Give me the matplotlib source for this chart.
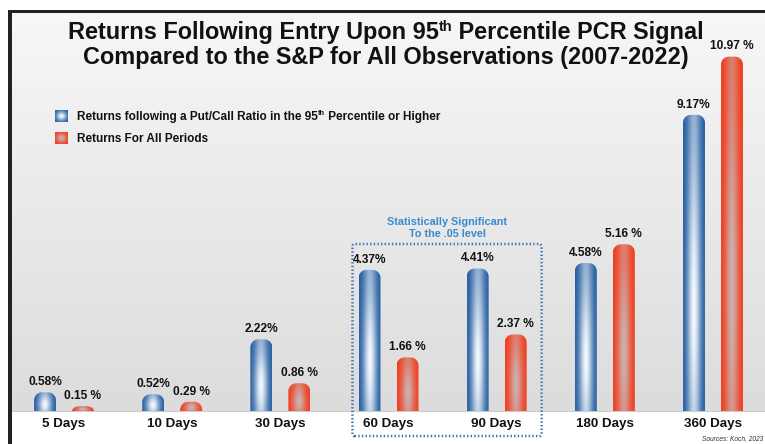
import numpy as np
import matplotlib
matplotlib.use("Agg")
import matplotlib.pyplot as plt
from matplotlib.path import Path
from matplotlib.patches import PathPatch, Rectangle, FancyBboxPatch
from matplotlib.colors import to_rgb

plt.rcParams['font.family'] = ['Liberation Sans', 'DejaVu Sans']

# ---- data ----
categories = ["5 Days", "10 Days", "30 Days", "60 Days", "90 Days", "180 Days", "360 Days"]
pcr_returns = [0.58, 0.52, 2.22, 4.37, 4.41, 4.58, 9.17]
all_returns = [0.15, 0.29, 0.86, 1.66, 2.37, 5.16, 10.97]
pcr_labels = ["0.58%", "0.52%", "2.22%", "4.37%", "4.41%", "4.58%", "9.17%"]
all_labels = ["0.15 %", "0.29 %", "0.86 %", "1.66 %", "2.37 %", "5.16 %", "10.97 %"]
# (text, is_superscript) pieces
legend_labels = [[("Returns following a Put/Call Ratio in the 95", False), ("th", True),
                  (" Percentile or Higher", False)],
                 [("Returns For All Periods", False)]]
title_lines = [[("Returns Following Entry Upon 95", False), ("th", True),
                (" Percentile PCR Signal", False)],
               [("Compared to the S&P for All Observations (2007-2022)", False)]]

W, H = 765, 444
fig = plt.figure(figsize=(W / 100, H / 100), dpi=100)
fig.patch.set_facecolor("white")
renderer = fig.canvas.get_renderer()

ax_left, ax_top = 12, 13
ax = fig.add_axes([ax_left / W, 0, (W - ax_left) / W, (H - ax_top) / H])
XL = (-0.481, 6.481)
YL = (-1.02, 12.32)
ax.set_xlim(*XL)
ax.set_ylim(*YL)
ax.axis("off")

px_x = (W - ax_left) / (XL[1] - XL[0])
px_y = (H - ax_top) / (YL[1] - YL[0])

# background gradient (gray above baseline)
g = np.linspace(0, 1, 256)[:, None]
top_c = np.array(to_rgb("#f7f7f7"))
bot_c = np.array(to_rgb("#dcdcdc"))
bg = top_c * g + bot_c * (1 - g)
bg = np.repeat(bg[:, None, :], 2, axis=1)
ax.imshow(bg, extent=[XL[0], XL[1], 0, YL[1]], origin="lower", aspect="auto", zorder=0)
ax.axhline(0, color="#cccccc", lw=0.8, zorder=1)

bar_w = 22 / px_x
off = 19 / px_x
r_px = 8


def bar_image(edge, center, n=80, m=40, vc=0.35):
    u = np.linspace(-1, 1, m)[None, :]
    v = np.linspace(0, 1, n)[:, None]
    f = np.exp(-(u / 0.62) ** 2) * (0.5 + 0.5 * np.exp(-((v - vc) / 0.45) ** 2))
    e = np.array(to_rgb(edge))
    c = np.array(to_rgb(center))
    return e + (c - e) * f[..., None]


def draw_bar(xc, h, edge, center):
    x0, x1 = xc - bar_w / 2, xc + bar_w / 2
    ry = min(r_px / px_y, h)
    rx = r_px / px_x
    t = np.linspace(0, np.pi / 2, 14)
    left = [(x0 + rx - rx * np.cos(a), h - ry + ry * np.sin(a)) for a in t]
    right = [(x1 - rx + rx * np.sin(a), h - ry + ry * np.cos(a)) for a in t]
    pts = [(x0, 0)] + left + right + [(x1, 0), (x0, 0)]
    codes = [Path.MOVETO] + [Path.LINETO] * (len(pts) - 2) + [Path.CLOSEPOLY]
    patch = PathPatch(Path(pts, codes), facecolor="none", edgecolor="none", zorder=2)
    ax.add_patch(patch)
    im = ax.imshow(bar_image(edge, center), extent=[x0, x1, 0, h], origin="lower",
                   aspect="auto", zorder=2)
    im.set_clip_path(patch)


BLUE = ("#1f5a9e", "#f2f7fd")
RED = ("#f23a1a", "#cdb0ac")

for i in range(len(categories)):
    draw_bar(i - off, pcr_returns[i], *BLUE)
    draw_bar(i + off, all_returns[i], *RED)
    ax.annotate(pcr_labels[i], (i - off, pcr_returns[i]), xytext=(0, 3),
                textcoords="offset points", ha="center", va="bottom",
                fontsize=8.6, fontweight="bold", color="#111111", zorder=3)
    ax.annotate(all_labels[i], (i + off, all_returns[i]), xytext=(0, 3),
                textcoords="offset points", ha="center", va="bottom",
                fontsize=8.6, fontweight="bold", color="#111111", zorder=3)
    ax.text(i, -13 / px_y, categories[i], ha="center", va="center",
            fontsize=9.6, fontweight="bold", color="#111111")

# statistically significant box around 60 & 90 days
bx0 = 3 - (389 - 353) / px_x
bx1 = 4 + (542 - 497) / px_x
by0 = -(436 - 411) / px_y
by1 = (411 - 244) / px_y
box = FancyBboxPatch((bx0, by0), bx1 - bx0, by1 - by0,
                     boxstyle="round,pad=0,rounding_size=0.02",
                     mutation_aspect=px_x / px_y,
                     facecolor="none", edgecolor="#3a72b4", lw=1.8,
                     linestyle=(0, (0.55, 0.9)), zorder=4, clip_on=False)
ax.add_patch(box)
ax.text((bx0 + bx1) / 2, by1 + 10 / px_y, "To the .05 level", ha="center", va="center",
        fontsize=7.8, fontweight="bold", color="#3a8ad0")
ax.text((bx0 + bx1) / 2, by1 + 22 / px_y, "Statistically Significant", ha="center",
        va="center", fontsize=7.8, fontweight="bold", color="#3a8ad0")


def rich_text(x_px, y_base_px, pieces, size, ha="left"):
    """Draw text pieces on one baseline; superscripts smaller and raised."""
    widths = []
    for s, sup in pieces:
        fs = size * 0.62 if sup else size
        t = fig.text(0, 0, s, fontsize=fs, fontweight="bold")
        widths.append(t.get_window_extent(renderer).width)
        t.remove()
    total = sum(widths)
    x = x_px - (total / 2 if ha == "center" else 0)
    for (s, sup), w in zip(pieces, widths):
        fs = size * 0.62 if sup else size
        dy = size * 1.389 * 0.36 if sup else 0
        fig.text(x / W, 1 - (y_base_px - dy) / H, s, fontsize=fs, fontweight="bold",
                 ha="left", va="baseline", color="#111111")
        x += w


# legend
for k, (lab, cols) in enumerate(zip(legend_labels, [BLUE, RED])):
    yc = 116 + 22 * k
    lax = fig.add_axes([55 / W, 1 - (yc + 6) / H, 12 / W, 12 / H])
    uu = np.linspace(-1, 1, 24)
    rr = np.sqrt(uu[None, :] ** 2 + uu[:, None] ** 2)
    f = np.exp(-(rr / 0.8) ** 2)
    e, c = np.array(to_rgb(cols[0])), np.array(to_rgb(cols[1]))
    lax.imshow(e + (c - e) * f[..., None], aspect="auto", extent=[0, 1, 0, 1])
    lax.axis("off")
    rich_text(77, yc + 3.5, lab, 8.5)

# title
rich_text(386, 39, title_lines[0], 16.9, ha="center")
rich_text(386, 64, title_lines[1], 16.9, ha="center")

# frame lines
fig.add_artist(Rectangle((8 / W, 0), 4 / W, 1 - 10 / H, transform=fig.transFigure,
                         facecolor="#222222", edgecolor="none"))
fig.add_artist(Rectangle((8 / W, 1 - 13 / H), 1 - 8 / W, 3 / H, transform=fig.transFigure,
                         facecolor="#222222", edgecolor="none"))

fig.text(763 / W, 1 - 439 / H, "Sources: Koch, 2023", ha="right", va="center",
         fontsize=4.8, style="italic", color="#333333")

fig.savefig("out.png", dpi=100)
